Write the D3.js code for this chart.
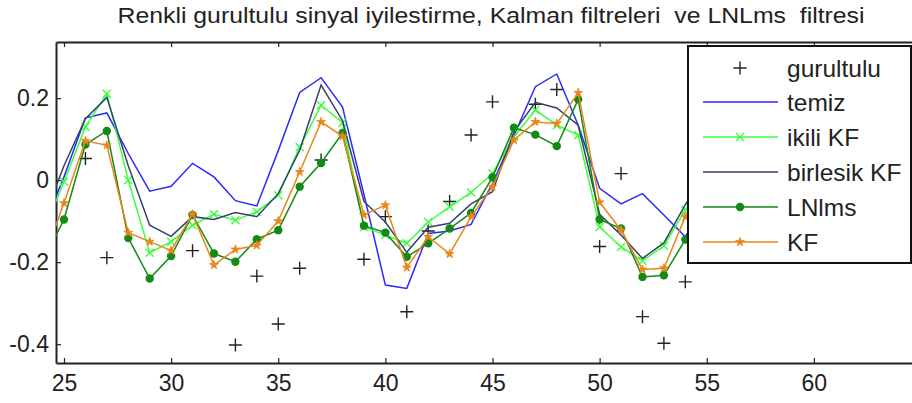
<!DOCTYPE html>
<html>
  <head>
    <meta charset="UTF-8" />
    <script src="https://cdn.jsdelivr.net/npm/d3@7"></script>
    <title>Kalman / LNLms</title>
    <style type="text/css">
      body { margin: 0; background: #fff; }
      text { font-family: "Liberation Sans", Arial, sans-serif; fill: #222; }
    </style>
  </head>
  <body>
    <div id="chartcontainer"></div>
    <script>
      // sample index
      var n = [24, 25, 26, 27, 28, 29, 30, 31, 32, 33, 34, 35, 36, 37, 38, 39,
               40, 41, 42, 43, 44, 45, 46, 47, 48, 49, 50, 51, 52, 53, 54, 55];

      // noisy signal (null = outside the visible axis)
      var gurultulu = [null, null, 0.053, -0.189, null, null, null, -0.172, null, -0.402, -0.234, -0.351, -0.215, 0.049, null, -0.193,
                       -0.089, -0.321, -0.124, -0.052, 0.110, 0.191, null, 0.185, 0.221, null, -0.162, 0.016, -0.333, -0.398, -0.248, null];
      var temiz = [-0.12, 0.008, 0.152, 0.164, 0.065, -0.027, -0.015, 0.041, 0.008, -0.050, -0.063, 0.072, 0.214, 0.250, 0.178, -0.035,
                   -0.256, -0.264, -0.130, -0.124, -0.108, -0.008, 0.109, 0.228, 0.259, 0.134, -0.020, -0.058, -0.033, -0.085, -0.138, -0.05];
      var ikiliKF = [-0.13, -0.004, 0.130, 0.211, 0.000, -0.177, -0.150, -0.110, -0.083, -0.098, -0.077, -0.037, 0.080, 0.183, 0.140, -0.114,
                     -0.134, -0.154, -0.102, -0.065, -0.030, 0.016, 0.106, 0.171, 0.134, 0.110, -0.114, -0.163, -0.197, -0.160, -0.073, 0.0];
      var birlesikKF = [-0.10, 0.035, 0.150, 0.202, 0.035, -0.110, -0.137, -0.089, -0.096, -0.079, -0.089, -0.033, 0.073, 0.232, 0.145, -0.052,
                        -0.102, -0.176, -0.115, -0.105, -0.058, -0.028, 0.118, 0.190, 0.176, 0.134, -0.083, -0.134, -0.191, -0.153, -0.060, 0.02];
      var lnlms = [-0.20, -0.096, 0.087, 0.120, -0.141, -0.240, -0.185, -0.085, -0.179, -0.199, -0.144, -0.122, -0.016, 0.042, 0.115, -0.111,
                   -0.128, -0.187, -0.154, -0.118, -0.080, 0.007, 0.128, 0.111, 0.083, 0.197, -0.096, -0.118, -0.236, -0.232, -0.145, -0.05];
      var kf = [-0.20, -0.056, 0.096, 0.085, -0.128, -0.150, -0.172, -0.083, -0.207, -0.169, -0.159, -0.100, 0.020, 0.142, 0.107, -0.085,
                -0.061, -0.213, -0.138, -0.180, -0.089, -0.016, 0.098, 0.142, 0.138, 0.213, -0.054, -0.122, -0.218, -0.215, -0.089, 0.0];

      var xTicks = [25, 30, 35, 40, 45, 50, 55, 60];
      var yTicks = [-0.4, -0.2, 0, 0.2];
      var title = "Renkli gurultulu sinyal iyilestirme, Kalman filtreleri  ve LNLms  filtresi";
      var legendNames = ["gurultulu", "temiz", "ikili KF", "birlesik KF", "LNlms", "KF"];

      var W = 912, H = 403;
      var plotLeft = 56, plotTop = 42, plotBottom = 363, plotRight = 921;

      var svg = d3.select("#chartcontainer").append("svg")
        .attr("width", W).attr("height", H);

      var x = d3.scaleLinear().domain([24.627, 65]).range([plotLeft, plotRight]);
      var y = d3.scaleLinear().domain([-0.446, 0.337]).range([plotBottom, plotTop]);

      svg.append("clipPath").attr("id", "plotclip")
        .append("rect")
        .attr("x", plotLeft).attr("y", plotTop)
        .attr("width", plotRight - plotLeft).attr("height", plotBottom - plotTop);

      // title
      svg.append("text")
        .attr("x", 491).attr("y", 23)
        .attr("text-anchor", "middle")
        .style("font-size", "22px")
        .style("white-space", "pre")
        .attr("textLength", 747)
        .attr("lengthAdjust", "spacingAndGlyphs")
        .text(title);

      // axes: MATLAB style, ticks inward
      var xAxis = svg.append("g")
        .attr("transform", "translate(0," + plotBottom + ")")
        .call(d3.axisBottom(x).tickValues(xTicks).tickSizeInner(-5).tickSizeOuter(0).tickPadding(12));
      var xTop = svg.append("g")
        .attr("transform", "translate(0," + plotTop + ")")
        .call(d3.axisTop(x).tickValues(xTicks).tickSizeInner(-5).tickSizeOuter(0).tickFormat(""));
      var yAxis = svg.append("g")
        .attr("transform", "translate(" + plotLeft + ",0)")
        .call(d3.axisLeft(y).tickValues(yTicks).tickSizeInner(-5).tickSizeOuter(0).tickPadding(7)
          .tickFormat(function (d) { return String(d); }));

      [xAxis, xTop, yAxis].forEach(function (g) {
        g.select(".domain").attr("stroke", "#222").attr("stroke-width", 2);
        g.selectAll(".tick line").attr("stroke", "#222").attr("stroke-width", 1.2);
        g.selectAll(".tick text").style("font-size", "23px").attr("fill", "#222")
          .style("font-family", "'Liberation Sans', Arial, sans-serif");
      });

      var plot = svg.append("g").attr("clip-path", "url(#plotclip)");

      function pts(vals) {
        return n.map(function (d, i) { return { n: d, v: vals[i] }; })
          .filter(function (p) { return p.v !== null; });
      }
      var line = d3.line()
        .x(function (d) { return x(d.n); })
        .y(function (d) { return y(d.v); });

      // noisy "+"
      var plus = "M-6.5,0H6.5M0,-6.5V6.5";
      plot.selectAll(".plus").data(pts(gurultulu)).enter().append("path")
        .attr("d", plus)
        .attr("transform", function (d) { return "translate(" + x(d.n) + "," + y(d.v) + ")"; })
        .attr("stroke", "#222").attr("stroke-width", 1.4).attr("fill", "none");

      var series = [
        { vals: temiz, color: "#2a2aff", marker: null },
        { vals: ikiliKF, color: "#3cff3c", marker: "x" },
        { vals: birlesikKF, color: "#34416e", marker: null },
        { vals: lnlms, color: "#138a13", marker: "dot" },
        { vals: kf, color: "#e8861c", marker: "star" }
      ];

      function drawMarker(sel, m, color) {
        if (m === "x") {
          sel.append("path").attr("d", "M-4,-4L4,4M-4,4L4,-4")
            .attr("stroke", color).attr("stroke-width", 1.4).attr("fill", "none");
        } else if (m === "dot") {
          sel.append("circle").attr("r", 4.2).attr("fill", color);
        } else if (m === "star") {
          sel.append("path").attr("d", d3.symbol().type(d3.symbolStar).size(24)())
            .attr("fill", color).attr("stroke", color).attr("stroke-width", 0.8);
        }
      }

      series.forEach(function (s) {
        var data = pts(s.vals);
        plot.append("path").datum(data)
          .attr("fill", "none")
          .attr("stroke", s.color)
          .attr("stroke-width", 1.5)
          .attr("d", line);
        if (s.marker) {
          data.forEach(function (d) {
            var g = plot.append("g").attr("transform", "translate(" + x(d.n) + "," + y(d.v) + ")");
            drawMarker(g, s.marker, s.color);
          });
        }
      });

      // legend
      var lg = svg.append("g");
      lg.append("rect")
        .attr("x", 688).attr("y", 46).attr("width", 223).attr("height", 217)
        .attr("fill", "#fff").attr("stroke", "#111").attr("stroke-width", 2);
      var rowY = [68, 102, 137, 172, 207, 242];
      legendNames.forEach(function (name, i) {
        var ry = rowY[i];
        if (i === 0) {
          lg.append("path").attr("d", plus)
            .attr("transform", "translate(740," + ry + ")")
            .attr("stroke", "#222").attr("stroke-width", 1.4);
        } else {
          var s = series[i - 1];
          lg.append("line")
            .attr("x1", 703).attr("x2", 778).attr("y1", ry).attr("y2", ry)
            .attr("stroke", s.color).attr("stroke-width", 1.5);
          if (s.marker) {
            drawMarker(lg.append("g").attr("transform", "translate(740," + ry + ")"), s.marker, s.color);
          }
        }
        lg.append("text")
          .attr("x", 787).attr("y", ry).attr("dy", "0.35em")
          .style("font-size", "24.5px")
          .text(name);
      });
    </script>
  </body>
</html>
